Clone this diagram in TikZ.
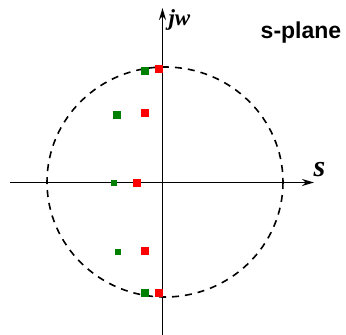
\documentclass[tikz,border=0pt]{standalone}
\usepackage{fontspec}
\setmainfont{Liberation Serif}
\setsansfont{Liberation Sans}
\usepackage{tikz}
\usetikzlibrary{arrows.meta, positioning}
\usepackage{xcolor}
\definecolor{poleR}{RGB}{255,0,0}
\definecolor{poleG}{RGB}{0,128,0}

\begin{document}
\begin{tikzpicture}[x=1pt, y=-1pt,
    axis/.style={line width=1.9pt, -{Stealth[length=12pt, width=7pt]}},
    redpole/.style={fill=poleR, inner sep=0pt, minimum size=8pt},
    greenpole/.style={fill=poleG, inner sep=0pt, minimum size=8pt},
    smallpole/.style={fill=poleG, inner sep=0pt, minimum size=6pt}]
    \useasboundingbox (0,0) rectangle (346,335);

    % 坐标轴
    \coordinate (xl) at (10,182.5);
    \coordinate (xr) at (314,182.5);
    \coordinate (yb) at (162.5,335);
    \coordinate (yt) at (162.5,8);
    \draw[axis] (xl) -- (xr);
    \draw[axis] (yb) -- (yt);
    \node[font=\bfseries\itshape\fontsize{23}{23}\selectfont, anchor=west] (jw) at (165,20) {jw};
    \node[font=\bfseries\itshape\fontsize{30}{30}\selectfont, anchor=west] (s) at (310,170) {s};

    % 单位圆
    \draw[line width=1.6pt, dash pattern=on 7pt off 6pt] (165,182) ellipse [x radius=118, y radius=115];

    % 红色极点
    \node[redpole] (r1) at (159,69) {};
    \node[redpole] (r2) at (145,113) {};
    \node[redpole] (r3) at (137,182.5) {};
    \node[redpole] (r4) at (145,251) {};
    \node[redpole] (r5) at (159,293) {};

    % 绿色极点
    \node[greenpole] (g1) at (145,70.5) {};
    \node[greenpole] (g2) at (117,115) {};
    \node[smallpole] (g3) at (114,182.5) {};
    \node[smallpole] (g4) at (118,251.5) {};
    \node[greenpole] (g5) at (145,292.5) {};

    \node[font=\sffamily\bfseries\fontsize{23}{23}\selectfont] (plane) at (301,33) {s-plane};
\end{tikzpicture}
\end{document}
